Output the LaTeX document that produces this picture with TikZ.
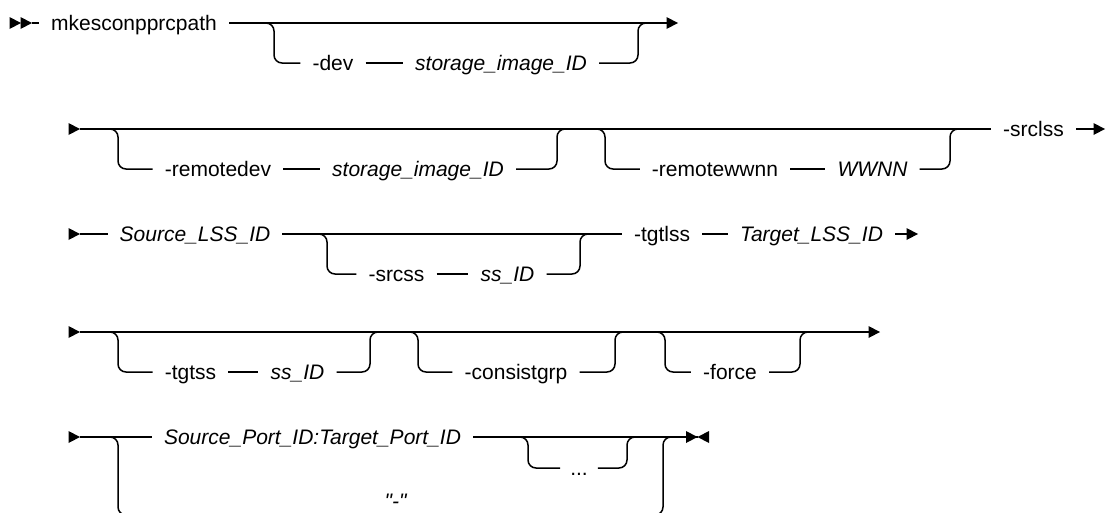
\documentclass[tikz,border=0pt]{standalone}
\usepackage{fontspec}
\setmainfont{Liberation Sans}
\newcommand\straightdq{\XeTeXglyph\XeTeXcharglyph"22\relax}
\begin{document}
\begin{tikzpicture}[x=1pt,y=-1pt,
  rail/.style={line width=1.5pt, rounded corners=8pt},
  kw/.style={font=\fontsize{21}{25}\selectfont, text height=15pt, text depth=0pt, inner xsep=12pt, inner ysep=2pt},
  var/.style={kw, font=\fontsize{21}{25}\selectfont\itshape},
  tipr/.pic={\fill (-11.5,-6) -- (0,0) -- (-11.5,6) -- cycle;},
  tipl/.pic={\fill (11.5,-6) -- (0,0) -- (11.5,6) -- cycle;}]
\useasboundingbox (0,0) rectangle (1107,512);

% ---------- Row 1 ----------
\pic at (21,23) {tipr};
\pic at (32,23) {tipr};
\coordinate (a1) at (32,23);
\coordinate (e1) at (667,23);
\pic at (678,23) {tipr};
\node[kw] (cmd) at (134,23) {mkesconpprcpath};
\node[kw] (dev) at (333,63) {-dev};
\node[var] (sid1) at (501,63) {storage\_image\_ID};
\draw[rail] (a1) -- (cmd) -- (e1);
\draw[rail] (262,23) -- (274,23) -- (274,63) -- (dev);
\draw[rail] (dev) -- (sid1);
\draw[rail] (sid1) -- (638,63) -- (638,23) -- (650,23);

% ---------- Row 2 ----------
\pic at (80,129) {tipr};
\coordinate (a2) at (80,129);
\coordinate (e2) at (1094,129);
\pic at (1105,129) {tipr};
\node[kw] (srclss) at (1033.5,129) {-srclss};
\node[kw] (rdev) at (218,169) {-remotedev};
\node[var] (sid2) at (418,169) {storage\_image\_ID};
\node[kw] (rwwnn) at (715,169) {-remotewwnn};
\node[var] (wwnn) at (872.5,169) {WWNN};
\draw[rail] (a2) -- (srclss) -- (e2);
\draw[rail] (108,129) -- (118,129) -- (118,169) -- (rdev);
\draw[rail] (rdev) -- (sid2);
\draw[rail] (sid2) -- (557,169) -- (557,129) -- (568,129);
\draw[rail] (595,129) -- (605,129) -- (605,169) -- (rwwnn);
\draw[rail] (rwwnn) -- (wwnn);
\draw[rail] (wwnn) -- (950,169) -- (950,129) -- (961,129);

% ---------- Row 3 ----------
\pic at (80,234) {tipr};
\coordinate (a3) at (80,234);
\coordinate (e3) at (907,234);
\pic at (918,234) {tipr};
\node[var] (slss) at (195,234) {Source\_LSS\_ID};
\node[kw] (tgtlss) at (662,234) {-tgtlss};
\node[var] (tlss) at (811.5,234) {Target\_LSS\_ID};
\node[kw] (srcss) at (396.5,274) {-srcss};
\node[var] (ssid1) at (507.5,274) {ss\_ID};
\draw[rail] (a3) -- (slss) -- (tgtlss) -- (tlss) -- (e3);
\draw[rail] (317,234) -- (327,234) -- (327,274) -- (srcss);
\draw[rail] (srcss) -- (ssid1);
\draw[rail] (ssid1) -- (580,274) -- (580,234) -- (591,234);

% ---------- Row 4 ----------
\pic at (80,332) {tipr};
\coordinate (a4) at (80,332);
\coordinate (e4) at (869,332);
\pic at (880,332) {tipr};
\node[kw] (tgtss) at (190.5,372) {-tgtss};
\node[var] (ssid2) at (297.5,372) {ss\_ID};
\node[kw] (cgrp) at (516,372) {-consistgrp};
\node[kw] (force) at (730,372) {-force};
\draw[rail] (a4) -- (e4);
\draw[rail] (108,332) -- (118,332) -- (118,372) -- (tgtss);
\draw[rail] (tgtss) -- (ssid2);
\draw[rail] (ssid2) -- (370,372) -- (370,332) -- (381,332);
\draw[rail] (408,332) -- (418,332) -- (418,372) -- (cgrp);
\draw[rail] (cgrp) -- (615,372) -- (615,332) -- (626,332);
\draw[rail] (655,332) -- (665,332) -- (665,372) -- (force);
\draw[rail] (force) -- (800,372) -- (800,332) -- (811,332);

% ---------- Row 5 ----------
\pic at (80,437) {tipr};
\coordinate (a5) at (80,437);
\coordinate (e5) at (697.5,437);
\pic at (697.5,437) {tipr};
\pic at (697.5,437) {tipl};
\node[var] (spid) at (312.5,437) {Source\_Port\_ID:Target\_Port\_ID};
\node[kw, inner xsep=10pt] (dots) at (579,468) {...};
\node[var, anchor=base, inner ysep=0pt] (q) at (395.5,508) {\straightdq-\straightdq};
\coordinate (lowL) at (118,515);
\coordinate (lowR) at (663,515);
\draw[rail] (a5) -- (spid) -- (e5);
\draw[rail] (518,437) -- (528,437) -- (528,468) -- (dots);
\draw[rail] (dots) -- (627,468) -- (627,437) -- (637,437);
\draw[rail] (108,437) -- (118,437) -- (lowL) -- (q.west |- lowL);
\draw[rail] (q.east |- lowR) -- (lowR) -- (663,437) -- (674,437);
\end{tikzpicture}
\end{document}
